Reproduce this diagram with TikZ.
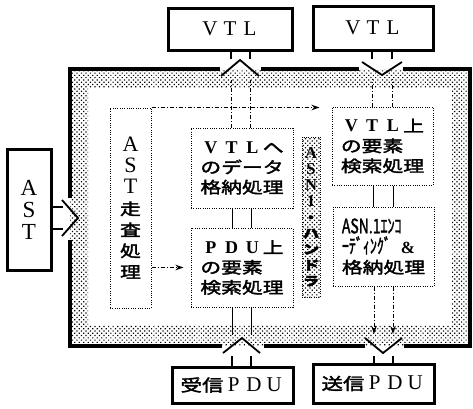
\documentclass[tikz,border=0pt]{standalone}
\usepackage{fontspec}
\setmainfont{Liberation Serif}
\newfontfamily\jp{Noto Sans CJK JP}[FakeStretch=1.3,FakeBold=2.2]
\newfontfamily\jpn{Noto Sans CJK JP}[FakeStretch=0.7,FakeBold=1.5]
\usetikzlibrary{arrows.meta,patterns.meta}
\newdimen\fwdim
\newcommand\lat[1]{\makebox[\fwdim]{\rmfamily\bfseries\fontsize{18}{20}\selectfont #1}}
\newcommand\latr[1]{\makebox[\fwdim]{\rmfamily\fontsize{21}{20}\selectfont #1}}
\begin{document}
\begin{tikzpicture}[x=1pt,y=-1pt,
  frame/.style={line width=3.2pt},
  thickbox/.style={draw,line width=3pt,inner sep=0pt,align=center},
  dotbox/.style={draw,line width=1pt,dash pattern=on 1pt off 1.3pt,inner sep=0pt},
  shade/.style={pattern={Dots[distance=3.2pt,radius=0.85pt,angle=45]},pattern color=black},
  stub/.style={line width=2.6pt},
  chev/.style={line width=1.8pt},
  link/.style={line width=1pt},
  dlink/.style={line width=1pt,dash pattern=on 4pt off 2pt on 1pt off 2pt},
  arr/.style={dlink,-{Stealth[length=8pt,width=5.5pt]}},
  jpbox/.style={dotbox,align=left,font={\fwdim=20.8pt\jp\fontsize{16}{20}\selectfont}}
]
\useasboundingbox (0,0) rectangle (473,408);
% shaded band
\fill[shade,even odd rule] (70,69) rectangle (470,346) (88,88) rectangle (452,325);
% outer frame with gaps
\draw[frame] (220,69) -- (70,69) -- (70,198);
\draw[frame] (70,240) -- (70,346) -- (222,346);
\draw[frame] (264,346) -- (365,346);
\draw[frame] (404,346) -- (470,346) -- (470,69) -- (403,69);
\draw[frame] (359,69) -- (261,69);

% outer boxes
\node[thickbox,minimum width=124pt,minimum height=42pt,font={\fwdim=20pt}] (vtlA) at (230,29) {\latr{V}\latr{T}\latr{L}};
\node[thickbox,minimum width=120pt,minimum height=44pt,font={\fwdim=20pt}] (vtlB) at (373,28) {\latr{V}\latr{T}\latr{L}};
\node[thickbox,minimum width=44pt,minimum height=121pt,font={\rmfamily\fontsize{23}{22}\selectfont}] (ast) at (29,209.5) {A\\S\\T};
\node[thickbox,minimum width=121pt,minimum height=36pt,font={\fwdim=20.3pt\jp\fontsize{16.5}{20}\selectfont}] (recv) at (232.5,385) {受信\latr{P}\latr{D}\latr{U}};
\node[thickbox,minimum width=121pt,minimum height=39pt,font={\fwdim=20.3pt\jp\fontsize{16.5}{20}\selectfont}] (send) at (373.5,383.5) {送信\latr{P}\latr{D}\latr{U}};

% inner boxes
\node[dotbox,align=center,minimum width=41pt,minimum height=200pt,font={\rmfamily\fontsize{22}{21}\selectfont}] (scan) at (130.5,208)
  {A\\S\\T\\{\jp\fontsize{16}{21}\selectfont 走}\\{\jp\fontsize{16}{21}\selectfont 査}\\{\jp\fontsize{16}{21}\selectfont 処}\\{\jp\fontsize{16}{21}\selectfont 理}};
\node[jpbox,minimum width=102pt,minimum height=80pt] (store) at (242,168) {\lat{V}\lat{T}\lat{L}へ\\のデータ\\格納処理};
\node[jpbox,minimum width=102pt,minimum height=79pt] (pdus) at (242,267.5) {\lat{P}\lat{D}\lat{U}上\\の要素\\検索処理};
\node[jpbox,minimum width=101pt,minimum height=78pt] (vtls) at (382.5,146) {\lat{V}\lat{T}\lat{L}上\\の要素\\検索処理};
\node[jpbox,minimum width=101pt,minimum height=79pt] (enc) at (383.5,246.5)
  {{\jpn\fontsize{20}{20}\selectfont ASN.1ｴﾝｺ}\\{\jpn\fontsize{20}{20}\selectfont ｰﾃﾞｨﾝｸﾞ}\hspace{10pt}{\rmfamily\bfseries\fontsize{17}{20}\selectfont\&}\\格納処理};
\node[dotbox,shade,align=center,minimum width=18pt,minimum height=160pt,font={\rmfamily\bfseries\fontsize{16.5}{15.9}\selectfont}] (asn) at (311,217)
  {A\\S\\N\\1\\{\jp\fontsize{12.5}{15.9}\selectfont ・}\\{\jp\fontsize{12.5}{15.9}\selectfont ハ}\\{\jp\fontsize{12.5}{15.9}\selectfont ン}\\{\jp\fontsize{12.5}{15.9}\selectfont ド}\\{\jp\fontsize{12.5}{15.9}\selectfont ラ}};

% VTL (left) <- store : output, chevron up
\foreach \x in {231,250}{
  \draw[stub] (vtlA.south -| \x,0) -- ++(0,7);
  \draw[dlink] (store.north -| \x,0) -- (\x,80);
}
\draw[chev] (221,76) -- (240,60) -- (259,76);

% VTL (right) -> vtls : input, chevron down
\foreach \x in {372,392}{
  \draw[stub] (vtlB.south -| \x,0) -- ++(0,7);
  \draw[dlink] (vtls.north -| \x,0) -- (\x,79);
}
\draw[chev] (362,62) -- (382,75) -- (402,62);

% vtls - enc, store - pdus
\foreach \x in {373,393}{
  \draw[link] (vtls.south -| \x,0) -- (enc.north -| \x,0);
}
\foreach \x in {232,251}{
  \draw[link] (store.south -| \x,0) -- (pdus.north -| \x,0);
}

% recv -> pdus : input, chevron up
\foreach \x in {232,251}{
  \draw[link] (pdus.south -| \x,0) -- (\x,335);
  \draw[stub] (recv.north -| \x,0) -- ++(0,-10);
}
\draw[chev] (223,353) -- (242,338) -- (260,353);

% enc -> send : output, chevron down
\foreach \x in {374,393}{
  \draw[arr] (enc.south -| \x,0) -- (\x,334);
  \draw[stub] (send.north -| \x,0) -- ++(0,-7);
}
\draw[chev] (365,338) -- (383,353) -- (402,338);

% AST -> scan : input, chevron right
\foreach \y in {207,229}{
  \draw[stub] (ast.east |- 0,\y) -- ++(10,0);
}
\draw[chev] (62,200) -- (78,218) -- (62,236);

% internal arrows
\draw[arr,shorten >=12pt] (scan.north east) -- (scan.north east -| vtls.west);
\draw[arr,shorten >=7pt] (scan.east |- pdus.west) -- (pdus.west);
\end{tikzpicture}
\end{document}
